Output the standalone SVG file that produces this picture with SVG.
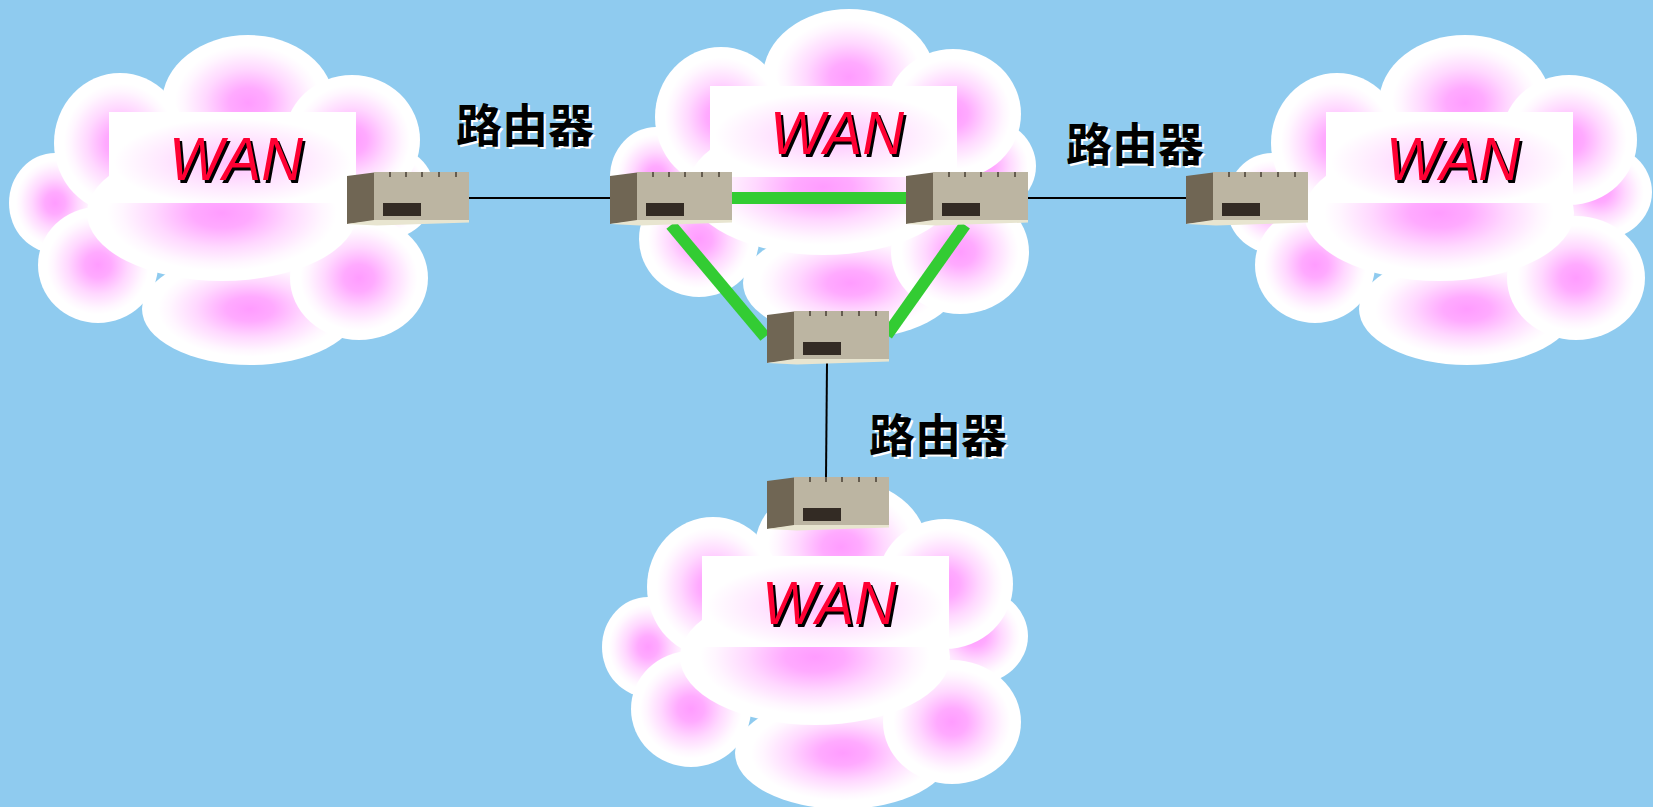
<svg xmlns="http://www.w3.org/2000/svg" xmlns:xlink="http://www.w3.org/1999/xlink" width="1653" height="807" viewBox="0 0 1653 807">
  <style>
    .puff { fill: url(#puffGrad); }
    .wan { font-family: "Liberation Sans", Arial, sans-serif; font-style: italic; font-size: 62px; }
    .wan-shadow { fill: #000000; }
    .wan-text { fill: #ff0033; }
    .lbl { font-family: "Noto Sans CJK SC", "Noto Sans", sans-serif; font-weight: 700; font-size: 46px; }
    .lbl-shadow { fill: #ffffff; }
    .lbl-text { fill: #000000; }
    .wire { stroke: #000000; stroke-width: 2; fill: none; }
    .trunk { stroke: #33cc33; stroke-width: 12; fill: none; stroke-linecap: butt; }
  </style>
  <defs>
    <radialGradient id="puffGrad" cx="0.5" cy="0.5" r="0.5">
      <stop offset="0" stop-color="#ff9cff"/>
      <stop offset="0.22" stop-color="#ffaaff"/>
      <stop offset="0.5" stop-color="#ffd8ff"/>
      <stop offset="0.74" stop-color="#fff6ff"/>
      <stop offset="0.85" stop-color="#ffffff"/>
      <stop offset="1" stop-color="#ffffff"/>
    </radialGradient>
    <radialGradient id="labelGrad" cx="0.5" cy="0.55" r="0.6">
      <stop offset="0" stop-color="#ffc0ff"/>
      <stop offset="0.45" stop-color="#ffe6ff"/>
      <stop offset="0.8" stop-color="#ffffff"/>
      <stop offset="1" stop-color="#ffffff"/>
    </radialGradient>

    <!-- cloud made of overlapping soft puffs, label panel on top -->
    <g id="cloud">
      <ellipse class="puff" cx="248" cy="103" rx="86" ry="68"/>
      <ellipse class="puff" cx="382" cy="192" rx="53" ry="48"/>
      <ellipse class="puff" cx="55" cy="203" rx="46" ry="50"/>
      <ellipse class="puff" cx="120" cy="143" rx="66" ry="70"/>
      <ellipse class="puff" cx="352" cy="140" rx="68" ry="65"/>
      <ellipse class="puff" cx="98" cy="265" rx="60" ry="58"/>
      <ellipse class="puff" cx="250" cy="309" rx="108" ry="56"/>
      <ellipse class="puff" cx="359" cy="278" rx="69" ry="62"/>
      <ellipse class="puff" cx="222" cy="213" rx="135" ry="68"/>
      <rect x="109" y="112" width="247" height="91" fill="url(#labelGrad)"/>
      <text class="wan wan-shadow" x="238.5" y="182.5" text-anchor="middle" textLength="134" lengthAdjust="spacingAndGlyphs">WAN</text>
      <text class="wan wan-text" x="236" y="180" text-anchor="middle" textLength="134" lengthAdjust="spacingAndGlyphs">WAN</text>
    </g>

    <!-- router box: dark side, light front, cream base, display slot, top ticks -->
    <g id="router">
      <polygon points="0,4 27,0.5 27,49 0,52" fill="#706654"/>
      <rect x="27" y="0" width="95" height="48" fill="#bcb5a2"/>
      <polygon points="0,52 27,48 122,48 122,50.5 30,53.5" fill="#e8e5d0"/>
      <rect x="36" y="31" width="38" height="13" fill="#332b24"/>
      <g stroke="#4f463a" stroke-width="1.6">
        <line x1="43" y1="0" x2="43" y2="5"/>
        <line x1="59" y1="0" x2="59" y2="5"/>
        <line x1="75" y1="0" x2="75" y2="5"/>
        <line x1="92" y1="0" x2="92" y2="5"/>
        <line x1="109" y1="0" x2="109" y2="5"/>
      </g>
    </g>
  </defs>

  <rect x="0" y="0" width="1653" height="807" fill="#8fcbef"/>

  <!-- networks -->
  <g id="wan-west"><use xlink:href="#cloud" href="#cloud"/></g>
  <g id="wan-core" transform="translate(601,-26)"><use xlink:href="#cloud" href="#cloud"/></g>
  <g id="wan-south" transform="translate(593,444)"><use xlink:href="#cloud" href="#cloud"/></g>
  <g id="wan-east" transform="translate(1217,0)"><use xlink:href="#cloud" href="#cloud"/></g>

  <!-- links -->
  <g id="connectors">
    <line class="wire" x1="469" y1="198" x2="610" y2="198"/>
    <line class="wire" x1="1027" y1="198" x2="1186" y2="198"/>
    <line class="wire" x1="827" y1="363" x2="826" y2="477"/>
    <line class="trunk" x1="731" y1="198" x2="906" y2="198"/>
    <line class="trunk" x1="671" y1="225" x2="765" y2="337"/>
    <line class="trunk" x1="965" y1="225" x2="887" y2="335"/>
  </g>

  <!-- routers -->
  <g id="router-west" transform="translate(347,172)"><use xlink:href="#router" href="#router"/></g>
  <g id="router-core-left" transform="translate(610,172)"><use xlink:href="#router" href="#router"/></g>
  <g id="router-core-right" transform="translate(906,172)"><use xlink:href="#router" href="#router"/></g>
  <g id="router-core-bottom" transform="translate(767,311)"><use xlink:href="#router" href="#router"/></g>
  <g id="router-south" transform="translate(767,477)"><use xlink:href="#router" href="#router"/></g>
  <g id="router-east" transform="translate(1186,172)"><use xlink:href="#router" href="#router"/></g>

  <!-- labels -->
  <g id="label-west">
    <text class="lbl lbl-shadow" x="458" y="144">路由器</text>
    <text class="lbl lbl-text" x="456" y="142">路由器</text>
  </g>
  <g id="label-east">
    <text class="lbl lbl-shadow" x="1068" y="163">路由器</text>
    <text class="lbl lbl-text" x="1066" y="161">路由器</text>
  </g>
  <g id="label-south">
    <text class="lbl lbl-shadow" x="871" y="454">路由器</text>
    <text class="lbl lbl-text" x="869" y="452">路由器</text>
  </g>
</svg>
